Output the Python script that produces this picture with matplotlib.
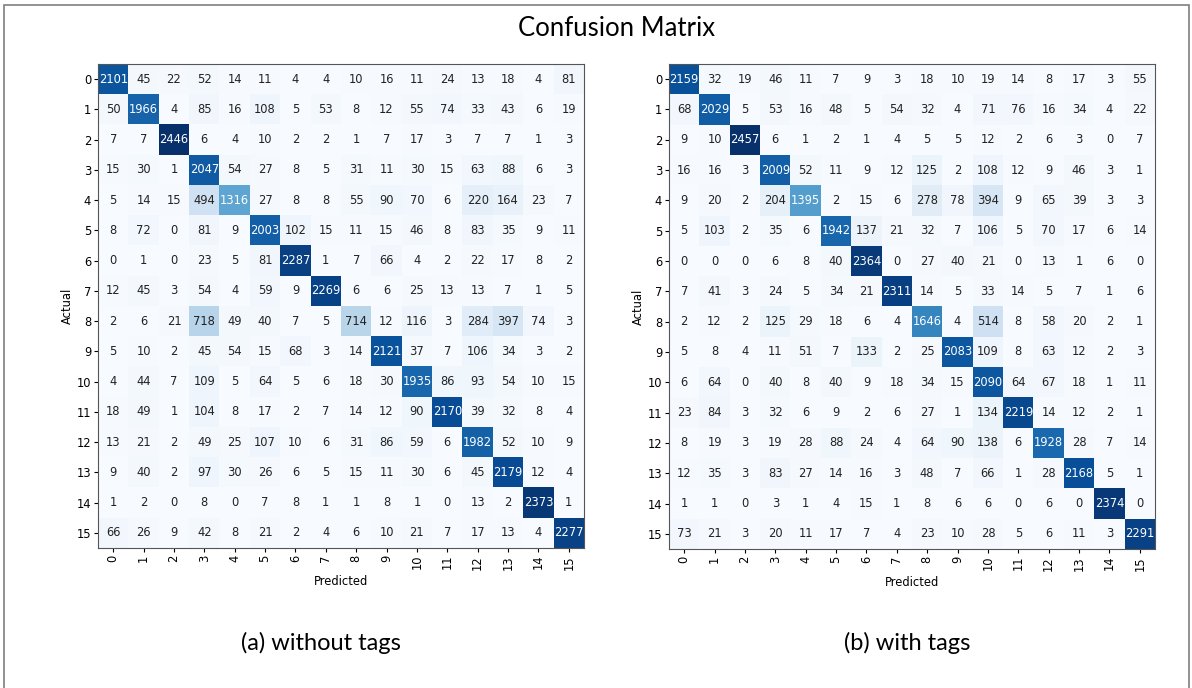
# confusion_matrix.py
# Two confusion matrices side by side: without tags vs with tags.

import numpy as np
import matplotlib.pyplot as plt
from matplotlib.patches import Rectangle

labels = [str(i) for i in range(16)]

cm_without_tags = np.array([
    [2101, 45, 22, 52, 14, 11, 4, 4, 10, 16, 11, 24, 13, 18, 4, 81],
    [50, 1966, 4, 85, 16, 108, 5, 53, 8, 12, 55, 74, 33, 43, 6, 19],
    [7, 7, 2446, 6, 4, 10, 2, 2, 1, 7, 17, 3, 7, 7, 1, 3],
    [15, 30, 1, 2047, 54, 27, 8, 5, 31, 11, 30, 15, 63, 88, 6, 3],
    [5, 14, 15, 494, 1316, 27, 8, 8, 55, 90, 70, 6, 220, 164, 23, 7],
    [8, 72, 0, 81, 9, 2003, 102, 15, 11, 15, 46, 8, 83, 35, 9, 11],
    [0, 1, 0, 23, 5, 81, 2287, 1, 7, 66, 4, 2, 22, 17, 8, 2],
    [12, 45, 3, 54, 4, 59, 9, 2269, 6, 6, 25, 13, 13, 7, 1, 5],
    [2, 6, 21, 718, 49, 40, 7, 5, 714, 12, 116, 3, 284, 397, 74, 3],
    [5, 10, 2, 45, 54, 15, 68, 3, 14, 2121, 37, 7, 106, 34, 3, 2],
    [4, 44, 7, 109, 5, 64, 5, 6, 18, 30, 1935, 86, 93, 54, 10, 15],
    [18, 49, 1, 104, 8, 17, 2, 7, 14, 12, 90, 2170, 39, 32, 8, 4],
    [13, 21, 2, 49, 25, 107, 10, 6, 31, 86, 59, 6, 1982, 52, 10, 9],
    [9, 40, 2, 97, 30, 26, 6, 5, 15, 11, 30, 6, 45, 2179, 12, 4],
    [1, 2, 0, 8, 0, 7, 8, 1, 1, 8, 1, 0, 13, 2, 2373, 1],
    [66, 26, 9, 42, 8, 21, 2, 4, 6, 10, 21, 7, 17, 13, 4, 2277],
])

cm_with_tags = np.array([
    [2159, 32, 19, 46, 11, 7, 9, 3, 18, 10, 19, 14, 8, 17, 3, 55],
    [68, 2029, 5, 53, 16, 48, 5, 54, 32, 4, 71, 76, 16, 34, 4, 22],
    [9, 10, 2457, 6, 1, 2, 1, 4, 5, 5, 12, 2, 6, 3, 0, 7],
    [16, 16, 3, 2009, 52, 11, 9, 12, 125, 2, 108, 12, 9, 46, 3, 1],
    [9, 20, 2, 204, 1395, 2, 15, 6, 278, 78, 394, 9, 65, 39, 3, 3],
    [5, 103, 2, 35, 6, 1942, 137, 21, 32, 7, 106, 5, 70, 17, 6, 14],
    [0, 0, 0, 6, 8, 40, 2364, 0, 27, 40, 21, 0, 13, 1, 6, 0],
    [7, 41, 3, 24, 5, 34, 21, 2311, 14, 5, 33, 14, 5, 7, 1, 6],
    [2, 12, 2, 125, 29, 18, 6, 4, 1646, 4, 514, 8, 58, 20, 2, 1],
    [5, 8, 4, 11, 51, 7, 133, 2, 25, 2083, 109, 8, 63, 12, 2, 3],
    [6, 64, 0, 40, 8, 40, 9, 18, 34, 15, 2090, 64, 67, 18, 1, 11],
    [23, 84, 3, 32, 6, 9, 2, 6, 27, 1, 134, 2219, 14, 12, 2, 1],
    [8, 19, 3, 19, 28, 88, 24, 4, 64, 90, 138, 6, 1928, 28, 7, 14],
    [12, 35, 3, 83, 27, 14, 16, 3, 48, 7, 66, 1, 28, 2168, 5, 1],
    [1, 1, 0, 3, 1, 4, 15, 1, 8, 6, 6, 0, 6, 0, 2374, 0],
    [73, 21, 3, 20, 11, 17, 7, 4, 23, 10, 28, 5, 6, 11, 3, 2291],
])

captions = ["(a) without tags", "(b) with tags"]


def draw_cm(ax, cm):
    ax.imshow(cm, cmap="Blues", interpolation="nearest", aspect="auto")
    thresh = cm.max() / 2.0
    for i in range(cm.shape[0]):
        for j in range(cm.shape[1]):
            ax.text(j, i, str(cm[i, j]), ha="center", va="center", fontsize=8.3,
                    color="white" if cm[i, j] > thresh else "#222222")
    ax.set_xticks(range(len(labels)))
    ax.set_yticks(range(len(labels)))
    ax.set_xticklabels(labels, rotation=90, fontsize=8.3)
    ax.set_yticklabels(labels, fontsize=8.3)
    ax.set_xlabel("Predicted", fontsize=8.3, labelpad=4)
    ax.set_ylabel("Actual", fontsize=8.3, labelpad=2)
    ax.tick_params(length=3, pad=2)
    for s in ax.spines.values():
        s.set_color("#555555")


fig = plt.figure(figsize=(11.92, 6.88), dpi=100)

ax1 = fig.add_axes([98 / 1192, 1 - 548 / 688, 486 / 1192, 484 / 688])
ax2 = fig.add_axes([669 / 1192, 1 - 549 / 688, 486 / 1192, 485 / 688])
draw_cm(ax1, cm_without_tags)
draw_cm(ax2, cm_with_tags)

fig.text(617 / 1192, 1 - 28 / 688, "Confusion Matrix", ha="center", va="center",
         fontsize=18.5, family="Lato")
fig.text(321 / 1192, 1 - 643 / 688, captions[0], ha="center", va="center",
         fontsize=17, family="Lato")
fig.text(907 / 1192, 1 - 643 / 688, captions[1], ha="center", va="center",
         fontsize=17, family="Lato")

# outer frame
fig.patches.append(Rectangle((4 / 1192, -0.01), 1185 / 1192, 1 - 5 / 688 + 0.01,
                             transform=fig.transFigure, fill=False,
                             edgecolor="#7f7f7f", linewidth=1.2))

fig.savefig("out.png", dpi=100)
plt.close()
